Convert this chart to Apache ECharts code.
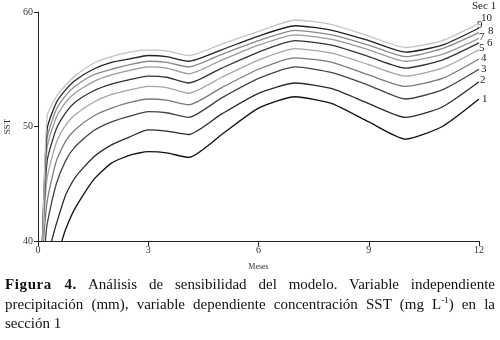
<!DOCTYPE html>
<html>
<head>
<meta charset="utf-8">
<script src="https://cdn.jsdelivr.net/npm/echarts@6/dist/echarts.min.js"></script>
<style>
  html, body { margin: 0; padding: 0; background: #fff; }
  #chart { position: absolute; left: 0; top: 0; width: 500px; height: 276px; }
  #caption {
    position: absolute; left: 5px; top: 275px; width: 490px;
    font-family: "Liberation Serif", serif; font-size: 15px; line-height: 19.5px;
    color: #111;
  }
  #caption .j { text-align: justify; text-align-last: justify; white-space: nowrap; }
  #caption b { letter-spacing: 0.6px; }
  #caption sup { font-size: 9px; line-height: 0; }
</style>
</head>
<body>
<div id="chart"></div>
<div id="caption">
  <div class="j"><b>Figura 4.</b> Análisis de sensibilidad del modelo. Variable independiente</div>
  <div class="j">precipitación (mm), variable dependiente concentración SST (mg L<sup>-1</sup>) en la</div>
  <div>sección 1</div>
</div>
<script>
// meses comunes (eje x)
var months = [0.25, 0.5, 0.75, 1, 1.5, 2, 2.5, 3, 3.5, 4.1, 5, 6, 7, 8, 9, 10, 11, 12];
// mes donde cada curva sale de SST = 40
var startMonth = [0.65, 0.37, 0.2, 0.15, 0.13, 0.12, 0.12, 0.12, 0.12, 0.13];
var startValue = 40;

var sec1  = [null, null, 41.0, 42.8, 45.3, 46.8, 47.5, 47.8, 47.7, 47.3, 49.3, 51.6, 52.6, 52.0, 50.4, 48.9, 50.0, 52.4];
var sec2  = [null, 41.5, 44.0, 45.5, 47.3, 48.4, 49.1, 49.7, 49.6, 49.3, 51.1, 52.9, 53.8, 53.3, 52.0, 50.8, 51.7, 53.9];
var sec3  = [41.5, 45.0, 47.0, 48.2, 49.6, 50.4, 50.9, 51.3, 51.2, 50.8, 52.5, 54.2, 55.2, 54.7, 53.6, 52.4, 53.2, 55.0];
var sec4  = [43.5, 47.0, 48.7, 49.7, 50.9, 51.6, 52.1, 52.4, 52.3, 51.9, 53.4, 55.0, 56.0, 55.6, 54.5, 53.5, 54.2, 55.9];
var sec5  = [45.5, 48.6, 50.1, 51.0, 52.1, 52.8, 53.2, 53.5, 53.4, 52.9, 54.3, 55.8, 56.8, 56.4, 55.4, 54.4, 55.1, 56.7];
var sec6  = [47.0, 49.8, 51.2, 52.1, 53.1, 53.7, 54.1, 54.4, 54.3, 53.8, 55.1, 56.5, 57.5, 57.1, 56.1, 55.1, 55.8, 57.3];
var sec7  = [48.2, 50.8, 52.1, 52.9, 53.9, 54.5, 54.9, 55.2, 55.1, 54.6, 55.8, 57.1, 58.0, 57.6, 56.7, 55.7, 56.3, 57.7];
var sec8  = [49.0, 51.5, 52.7, 53.5, 54.5, 55.0, 55.4, 55.7, 55.6, 55.2, 56.3, 57.5, 58.4, 58.0, 57.1, 56.1, 56.8, 58.2];
var sec9  = [49.8, 52.1, 53.2, 54.0, 55.0, 55.6, 55.9, 56.2, 56.1, 55.7, 56.7, 57.9, 58.8, 58.4, 57.5, 56.5, 57.1, 58.6];
var sec10 = [50.9, 52.6, 53.6, 54.4, 55.5, 56.1, 56.5, 56.7, 56.6, 56.2, 57.2, 58.3, 59.3, 58.9, 57.9, 56.9, 57.5, 59.0];

var curves = [sec1, sec2, sec3, sec4, sec5, sec6, sec7, sec8, sec9, sec10];
var curveLabels = ['1', '2', '3', '4', '5', '6', '7', '8', '9', '10'];

// estilo de cada linea (gris alterno como en la figura)
var lineColors = ['#111', '#2b2b2b', '#444', '#7a7a7a', '#a5a5a5', '#333', '#9a9a9a', '#8a8a8a', '#222', '#c4c4c4'];
var labelOffsets = [[2, 0], [0, -2], [1, 0], [1, -1], [-1, -2], [7, 0], [-1, -1], [8, -2], [-3, -3], [1, -5]];

var myChart = echarts.init(document.getElementById('chart'));

function buildData(vals, i) {
    var out = [[startMonth[i], startValue]];
    for (var k = 0; k < months.length; k++) {
        if (vals[k] == null) continue;
        out.push([months[k], vals[k]]);
    }
    return out;
}

var series = [];
for (var i = 0; i < curves.length; i++) {
    series.push({
        name: curveLabels[i],
        type: 'line',
        data: buildData(curves[i], i),
        showSymbol: false,
        smooth: 0.2,
        lineStyle: { color: lineColors[i], width: 1.3 },
        endLabel: {
            show: true,
            formatter: curveLabels[i],
            distance: 1,
            offset: labelOffsets[i],
            color: '#222',
            fontFamily: 'Liberation Serif',
            fontSize: 11
        },
        z: 2 + i
    });
}

myChart.setOption({
    animation: false,
    grid: { left: 38, right: 21, top: 12, bottom: 35, outerBoundsMode: 'none', containLabel: false },
    xAxis: {
        type: 'value', min: 0, max: 12, interval: 3,
        name: 'Meses', nameLocation: 'middle', nameGap: 22,
        nameTextStyle: { fontFamily: 'Liberation Serif', fontSize: 8, color: '#333' },
        axisLine: { lineStyle: { color: '#222', width: 1 } },
        axisTick: { length: 5, lineStyle: { color: '#222' } },
        axisLabel: { fontFamily: 'Liberation Serif', fontSize: 10, color: '#333', margin: 4 },
        splitLine: { show: false }
    },
    yAxis: {
        type: 'value', min: 40, max: 60, interval: 10,
        name: 'SST', nameLocation: 'middle', nameGap: 26, nameRotate: 90,
        nameTextStyle: { fontFamily: 'Liberation Serif', fontSize: 9, color: '#333' },
        axisLine: { show: true, lineStyle: { color: '#222', width: 1 } },
        axisTick: { show: true, length: 4, lineStyle: { color: '#222' } },
        axisLabel: { fontFamily: 'Liberation Serif', fontSize: 10, color: '#333', margin: 5 },
        splitLine: { show: false }
    },
    graphic: [{
        type: 'text', left: 472, top: 1,
        style: { text: 'Sec 1', fontFamily: 'Liberation Serif', fontSize: 11, fill: '#222' }
    }],
    series: series
});
</script>
</body>
</html>
